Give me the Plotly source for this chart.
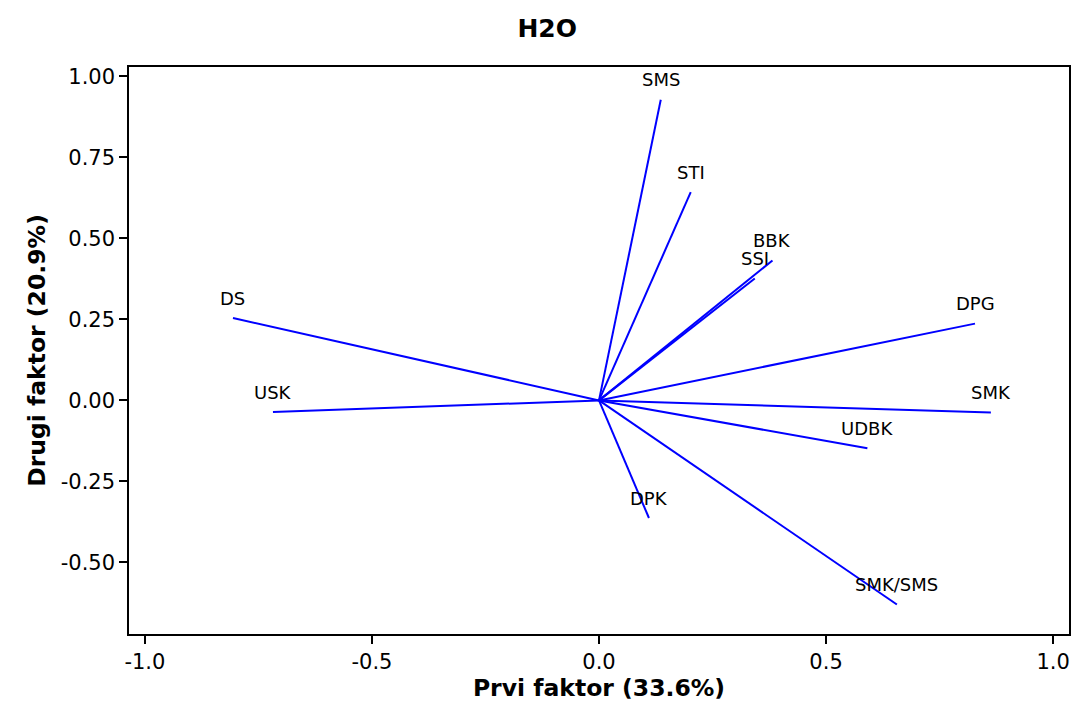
import plotly.graph_objects as go

names = ["SMS", "STI", "BBK", "SSI", "DPG", "SMK", "UDBK", "SMK/SMS", "DPK", "USK", "DS"]
factor1 = [0.136, 0.202, 0.382, 0.343, 0.828, 0.863, 0.591, 0.656, 0.110, -0.718, -0.806]
factor2 = [0.928, 0.643, 0.432, 0.376, 0.237, -0.037, -0.148, -0.630, -0.363, -0.036, 0.254]

x_tickvals = [-1.0, -0.5, 0.0, 0.5, 1.0]
x_ticktext = ["-1.0", "-0.5", "0.0", "0.5", "1.0"]
y_tickvals = [-0.5, -0.25, 0.0, 0.25, 0.5, 0.75, 1.0]
y_ticktext = ["-0.50", "-0.25", "0.00", "0.25", "0.50", "0.75", "1.00"]

FONT = "DejaVu Sans"

fig = go.Figure()
for n, x, y in zip(names, factor1, factor2):
    fig.add_trace(go.Scatter(
        x=[0, x], y=[0, y], mode="lines",
        line=dict(color="#0000ff", width=2),
        showlegend=False, hoverinfo="skip", name=n,
    ))
    fig.add_annotation(
        x=x, y=y, text=n, showarrow=False, yshift=20,
        xanchor="center", yanchor="middle",
        font=dict(family=FONT, size=18, color="black"),
    )

fig.update_layout(
    width=1073, height=706,
    margin=dict(l=129, r=2, t=67, b=72),
    paper_bgcolor="white", plot_bgcolor="white",
    title=dict(text="<b>H2O</b>", x=0.51, xanchor="center", y=1 - 28 / 706, yanchor="middle",
               font=dict(family=FONT, size=25, color="black")),
    font=dict(family=FONT, color="black"),
)
fig.update_xaxes(
    range=[-1.035, 1.035], tickvals=x_tickvals, ticktext=x_ticktext,
    showgrid=False, zeroline=False, showline=True, linecolor="black", linewidth=1.5,
    mirror=True, ticks="outside", ticklen=8, tickcolor="black", tickwidth=1.5,
    tickfont=dict(family=FONT, size=21),
    title=dict(text="<b>Prvi faktor (33.6%)</b>", font=dict(family=FONT, size=23.5), standoff=4),
)
fig.update_yaxes(
    range=[-0.721, 1.029], tickvals=y_tickvals, ticktext=y_ticktext,
    showgrid=False, zeroline=False, showline=True, linecolor="black", linewidth=1.5,
    mirror=True, ticks="outside", ticklen=8, tickcolor="black", tickwidth=1.5,
    tickfont=dict(family=FONT, size=21),
    title=dict(text="<b>Drugi faktor (20.9%)</b>", font=dict(family=FONT, size=23.5), standoff=8),
)

fig.write_html(
    "out.html",
    config={"displayModeBar": False},
    post_script="document.body.style.margin='0';document.body.style.overflow='hidden';",
)
